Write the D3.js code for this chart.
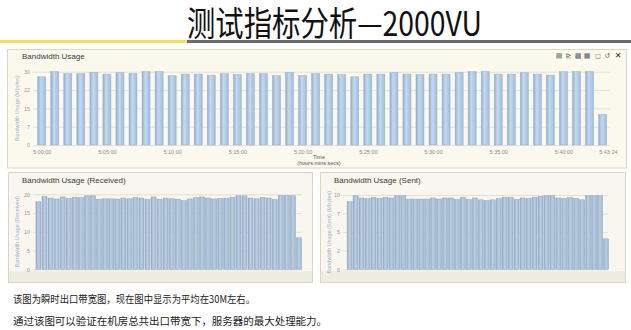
<!DOCTYPE html>
<html><head><meta charset="utf-8">
<script src="https://cdn.jsdelivr.net/npm/d3@7"></script>
<style>body{margin:0;background:#fff;} svg{display:block;}</style>
</head><body><svg id="c" width="631" height="330"></svg>
<script>
// ---- data ----
const times = ["5:00:00","5:01:00","5:02:00","5:03:00","5:04:00","5:05:00","5:06:00","5:07:00","5:08:00","5:09:00",
"5:10:00","5:11:00","5:12:00","5:13:00","5:14:00","5:15:00","5:16:00","5:17:00","5:18:00","5:19:00",
"5:20:00","5:21:00","5:22:00","5:23:00","5:24:00","5:25:00","5:26:00","5:27:00","5:28:00","5:29:00",
"5:30:00","5:31:00","5:32:00","5:33:00","5:34:00","5:35:00","5:36:00","5:37:00","5:38:00","5:39:00",
"5:40:00","5:41:00","5:42:00","5:43:00"];
const totalUsage = [27.9,30.0,29.2,29.2,29.7,29.0,29.6,29.2,30.0,30.0,28.4,29.0,29.0,28.6,29.2,28.8,29.2,29.2,28.4,29.7,
28.4,29.2,29.0,28.8,27.9,29.0,29.0,29.6,29.0,28.8,29.0,29.0,29.6,30.0,30.0,29.0,29.0,29.6,29.0,28.6,30.0,30.0,30.0,12.5];
const receivedUsage = [18.0,19.4,19.0,18.75,19.3,18.9,19.2,19.1,19.6,19.6,18.7,18.8,18.8,18.75,19.0,18.8,19.1,19.0,18.6,19.3,
18.7,19.0,18.8,18.7,18.3,18.75,19.1,19.3,19.0,18.75,18.9,19.0,19.2,19.6,19.6,19.0,18.8,19.2,19.0,18.6,19.7,19.7,19.6,8.4];
const sentUsage = [9.1,9.9,9.6,9.5,9.7,9.55,9.7,9.6,9.9,9.9,9.45,9.45,9.45,9.45,9.6,9.45,9.6,9.6,9.4,9.7,
9.4,9.6,9.35,9.25,9.35,9.5,9.7,9.7,9.4,9.6,9.55,9.7,9.8,9.9,9.9,9.6,9.55,9.65,9.55,9.35,9.9,9.9,9.9,4.1];
const xTickTimes = ["5:00:00","5:05:00","5:10:00","5:15:00","5:20:00","5:25:00","5:30:00","5:35:00","5:40:00","5:43:24"];
const totalTicks = [0,7.5,15,22.5,30];
const totalTickLabels = ["0","7","15","22","30"];
const recvTicks = [0,5,10,15,20];
const recvTickLabels = ["0","5","10","15","20"];
const sentTicks = [0,2.5,5,7.5,10];
const sentTickLabels = ["0","2","5","7","10"];

// ---- drawing ----
const parse = d3.timeParse("%H:%M:%S");
const svg = d3.select("#c");
const defs = svg.append("defs");
function grad(id, stops){
  const g = defs.append("linearGradient").attr("id", id).attr("x1","0").attr("x2","1").attr("y1","0").attr("y2","0");
  stops.forEach(s => g.append("stop").attr("offset", s[0]).attr("stop-color", s[1]));
}
grad("gTop", [[0,"#8eaed2"],[0.4,"#c6d9ee"],[1,"#a0bcdc"]]);
grad("gLow", [[0,"#8fa9c6"],[0.45,"#bccfe3"],[1,"#9fb6cf"]]);

// title
svg.append("text").attr("x",187).attr("y",36)
  .attr("font-family","'Noto Sans CJK SC', sans-serif").attr("font-size",34).attr("fill","#111")
  .attr("textLength",295).attr("lengthAdjust","spacingAndGlyphs")
  .text("测试指标分析—2000VU");
svg.append("rect").attr("x",0).attr("y",40).attr("width",187).attr("height",3).attr("fill","#efe06a");
svg.append("rect").attr("x",187).attr("y",40).attr("width",444).attr("height",3).attr("fill","#6a6a6a");

const fontUI = "'Liberation Sans', Arial, sans-serif";

function chart(cfg){
  const g = svg.append("g");
  g.append("rect").attr("x",cfg.px).attr("y",cfg.py).attr("width",cfg.pw).attr("height",cfg.ph)
    .attr("fill",cfg.bg).attr("stroke","#d9d6c4").attr("stroke-width",1);
  if (cfg.band) g.append("rect").attr("x",cfg.px+0.5).attr("y",cfg.bottom+2).attr("width",cfg.pw-1)
    .attr("height",cfg.py+cfg.ph-cfg.bottom-2.5).attr("fill","#efece2");
  g.append("text").attr("x",cfg.tx).attr("y",cfg.ty).attr("font-family",fontUI).attr("font-size",8)
    .attr("fill","#3a3a3a").text(cfg.title);

  const x = d3.scaleTime().domain([parse(cfg.t0), parse(cfg.t1)]).range([cfg.left, cfg.right]);
  const y = d3.scaleLinear().domain([0, cfg.ymax]).range([cfg.bottom, cfg.top]);

  const ya = g.append("g").attr("transform",`translate(${cfg.left},0)`)
    .call(d3.axisLeft(y).tickValues(cfg.ticks).tickSize(-(cfg.right-cfg.left)).tickPadding(3)
      .tickFormat((d,i)=>cfg.tickLabels[i]));
  ya.select(".domain").remove();
  ya.selectAll("line").attr("stroke","#deddcf").attr("stroke-width",0.8);
  ya.selectAll("text").attr("fill","#9a9a9a").attr("font-size",5.5).attr("font-family",fontUI);

  g.append("text").attr("transform",`translate(${cfg.yx},${(cfg.top+cfg.bottom)/2}) rotate(-90)`)
    .attr("text-anchor","middle").attr("font-family",fontUI).attr("font-size",5.5).attr("fill","#a3b3c8")
    .text(cfg.ytitle);

  g.selectAll("rect.bar").data(cfg.values).join("rect").attr("class","bar")
    .attr("x",(d,i)=>x(parse(times[i]))-cfg.bw/2).attr("width",cfg.bw)
    .attr("y",d=>y(d)).attr("height",d=>cfg.bottom-y(d))
    .attr("fill",cfg.fill).attr("stroke",cfg.stroke).attr("stroke-width",0.5);

  if (cfg.xaxis){
    const xa = g.append("g").attr("transform",`translate(0,${cfg.bottom+2})`)
      .call(d3.axisBottom(x).tickValues(xTickTimes.map(parse)).tickSize(0).tickPadding(3)
        .tickFormat(d3.timeFormat("%-H:%M:%S")));
    xa.select(".domain").remove();
    xa.selectAll("text").attr("fill","#8a8a8a").attr("font-size",5.5).attr("font-family",fontUI);
  }
  return g;
}

chart({px:7.5,py:49.5,pw:619,ph:118.5,bg:"#fbf9ee",tx:22,ty:59,title:"Bandwidth Usage",
  t0:"4:59:20",t1:"5:43:34",left:33,right:610,top:71.7,bottom:145,ymax:30,
  ticks:totalTicks,tickLabels:totalTickLabels,yx:19,ytitle:"Bandwidth Usage (Mbytes)",
  values:totalUsage,bw:8,fill:"url(#gTop)",stroke:"#93b0cf",xaxis:true});

svg.append("text").attr("x",319).attr("y",158.5).attr("text-anchor","middle").attr("font-family",fontUI)
  .attr("font-size",5.5).attr("fill","#555").text("Time");
svg.append("text").attr("x",319).attr("y",165).attr("text-anchor","middle").attr("font-family",fontUI)
  .attr("font-size",5.5).attr("fill","#555").text("(hours:mins:secs)");

// toolbar icons
const icons = ["▤","⊵","▩","▦","◻","↺","✕"];
const iconX = [559,568.5,578,587,598,607.5,618];
svg.selectAll("text.icon").data(icons).join("text").attr("class","icon")
  .attr("x",(d,i)=>iconX[i]).attr("y",58).attr("text-anchor","middle")
  .attr("font-family","'DejaVu Sans', sans-serif").attr("font-size",(d,i)=>i===6?8:7)
  .attr("font-weight",(d,i)=>i===6?"bold":"normal")
  .attr("fill",(d,i)=>i===6?"#333":"#666").text(d=>d);

chart({px:8.5,py:172.5,pw:304,ph:110,bg:"#f8f6ee",band:true,tx:22,ty:183,title:"Bandwidth Usage (Received)",
  t0:"4:59:06",t1:"5:43:30",left:33,right:302,top:194.3,bottom:269.3,ymax:20,
  ticks:recvTicks,tickLabels:recvTickLabels,yx:19,ytitle:"Bandwidth Usage (Received)",
  values:receivedUsage,bw:5,fill:"url(#gLow)",stroke:"#8ea7c2",xaxis:false});

chart({px:320.5,py:172.5,pw:305,ph:110,bg:"#f8f6ee",band:true,tx:334,ty:183,title:"Bandwidth Usage (Sent)",
  t0:"4:58:53",t1:"5:43:20",left:343,right:608,top:195,bottom:269.3,ymax:10,
  ticks:sentTicks,tickLabels:sentTickLabels,yx:331,ytitle:"Bandwidth Usage (Sent) (Mbytes)",
  values:sentUsage,bw:5,fill:"url(#gLow)",stroke:"#8ea7c2",xaxis:false});

// bottom notes
const cjk = "'Noto Sans CJK SC', sans-serif";
svg.append("text").attr("x",13).attr("y",303).attr("font-family",cjk).attr("font-size",10.5).attr("fill","#222")
  .attr("textLength",242).attr("lengthAdjust","spacingAndGlyphs")
  .text("该图为瞬时出口带宽图，现在图中显示为平均在30M左右。");
svg.append("text").attr("x",13).attr("y",325).attr("font-family",cjk).attr("font-size",10.5).attr("fill","#222")
  .attr("textLength",314).attr("lengthAdjust","spacingAndGlyphs")
  .text("通过该图可以验证在机房总共出口带宽下，服务器的最大处理能力。");
</script></body></html>
